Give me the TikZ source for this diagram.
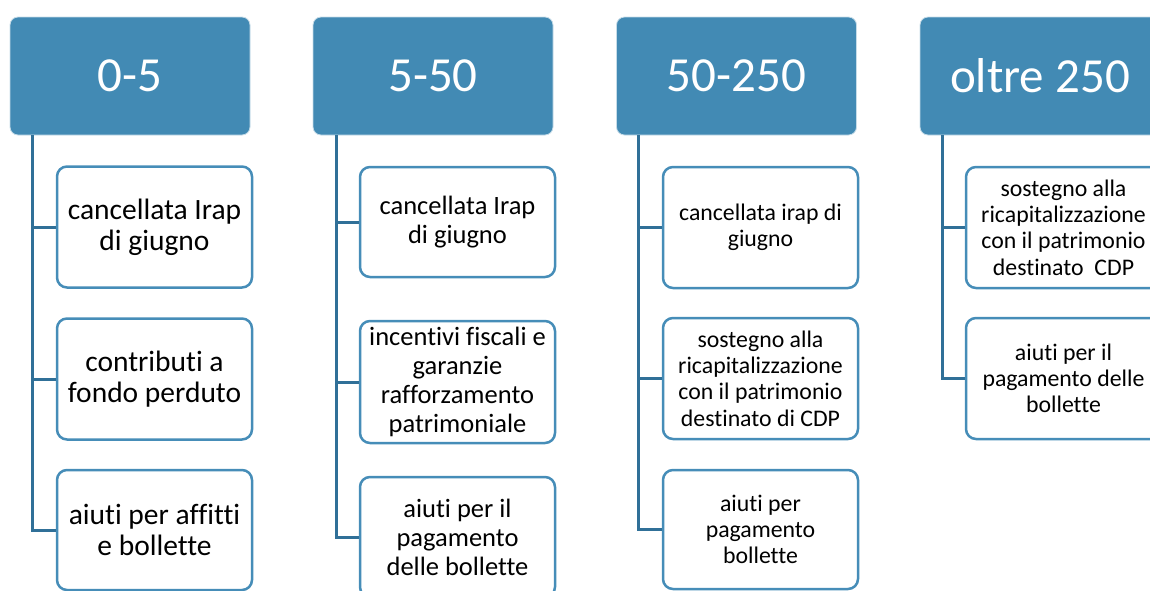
\documentclass[tikz,border=0pt]{standalone}
\usepackage{fontspec}
\setmainfont{Carlito}[Ligatures=NoCommon]
\definecolor{headc}{RGB}{66,138,180}
\definecolor{itemc}{RGB}{70,141,184}
\definecolor{connc}{RGB}{48,112,152}
\tikzset{
  head/.style={fill=headc, draw=white!70!headc, line width=0.8pt, rounded corners=8pt,
    minimum width=240pt, minimum height=118pt, inner sep=0pt, text=white,
    font=\fontsize{49}{55}\selectfont},
  item/.style={draw=itemc, fill=white, line width=2.5pt, rounded corners=10pt,
    minimum width=195pt, inner sep=0pt, align=center, text=black},
  fa/.style={font=\fontsize{29.5}{31}\selectfont},
  fb/.style={font=\fontsize{26.5}{29}\selectfont},
  fc/.style={font=\fontsize{23.8}{26.3}\selectfont},
  conn/.style={draw=connc, line width=3pt}
}
\begin{document}
\begin{tikzpicture}[x=1pt,y=-1pt]
\useasboundingbox (0,0) rectangle (1150,590);
% headers
\node[head] (h1) at (130,76) {0-5};
\node[head] (h2) at (433,76) {5-50};
\node[head] (h3) at (736.5,76) {50-250};
\node[head] (h4) at (1040,76) {oltre 250};
\coordinate (t1) at ([xshift=23pt]h1.south west);
\coordinate (t2) at ([xshift=24pt]h2.south west);
\coordinate (t3) at ([xshift=22pt]h3.south west);
\coordinate (t4) at ([xshift=23pt]h4.south west);
% items, column 1
\node[item,fa,minimum height=121pt] (a1) at (154.5,227) {cancellata Irap\\di giugno};
\node[item,fa,minimum height=121pt] (a2) at (154.5,379) {contributi a\\fondo perduto};
\node[item,fa,minimum height=120pt] (a3) at (154.5,530) {aiuti per affitti\\e bollette};
% column 2
\node[item,fb,minimum height=110pt] (b1) at (457.5,222) {cancellata Irap\\di giugno};
\node[item,fb,minimum height=122pt] (b2) at (457.5,382) {incentivi fiscali e\\garanzie\\rafforzamento\\patrimoniale};
\node[item,fb,minimum height=120pt] (b3) at (457.5,537) {aiuti per il\\pagamento\\delle bollette};
% column 3
\node[item,fc,minimum height=121pt] (c1) at (760.5,227.5) {cancellata irap di\\giugno};
\node[item,fc,minimum height=121pt] (c2) at (760.5,378.5) {sostegno alla\\ricapitalizzazione\\con il patrimonio\\destinato di CDP};
\node[item,fc,minimum height=119pt] (c3) at (760.5,529.5) {aiuti per\\pagamento\\bollette};
% column 4
\node[item,fc,minimum height=121pt] (d1) at (1063.5,227.5) {sostegno alla\\ricapitalizzazione\\con il patrimonio\\destinato~~CDP};
\node[item,fc,minimum height=121pt] (d2) at (1063.5,378.5) {aiuti per il\\pagamento delle\\bollette};
% connectors
\draw[conn] (t1) |- (a1.west);
\draw[conn] (t1) |- (a2.west);
\draw[conn] (t1) |- (a3.west);
\draw[conn] (t2) |- (b1.west);
\draw[conn] (t2) |- (b2.west);
\draw[conn] (t2) |- (b3.west);
\draw[conn] (t3) |- (c1.west);
\draw[conn] (t3) |- (c2.west);
\draw[conn] (t3) |- (c3.west);
\draw[conn] (t4) |- (d1.west);
\draw[conn] (t4) |- (d2.west);
\end{tikzpicture}
\end{document}
